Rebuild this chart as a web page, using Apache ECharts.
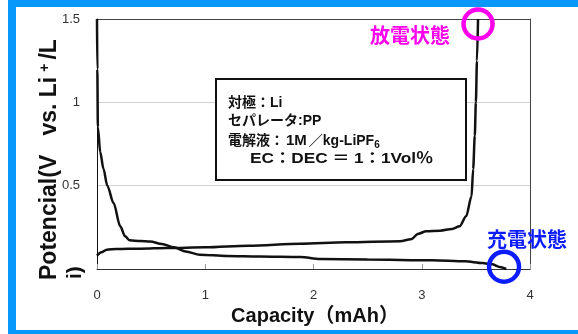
<!DOCTYPE html>
<html>
<head>
<meta charset="utf-8">
<script src="https://cdn.jsdelivr.net/npm/echarts@6/dist/echarts.min.js"></script>
<style>
  html, body { margin: 0; padding: 0; background: #ffffff; overflow: hidden; }
  #chart { width: 578px; height: 334px; }
</style>
</head>
<body>
<div id="chart"></div>
<script>
// Axis ticks
const xTicks = [0, 1, 2, 3, 4];
const yTicks = [0, 0.5, 1, 1.5];

// Discharge curve: capacity (mAh) vs potential (V)
const dischargeCap = [0, 0.003, 0.008, 0.03, 0.06, 0.095, 0.153, 0.215, 0.26, 0.3, 0.4, 0.49, 0.6, 0.71, 0.82, 0.95, 1.2, 1.5, 1.88, 2.06, 2.5, 3.1, 3.4, 3.56, 3.65, 3.72, 3.78];
const dischargeV   = [1.5, 1.2, 0.85, 0.7, 0.6, 0.5, 0.396, 0.256, 0.196, 0.172, 0.168, 0.165, 0.15, 0.13, 0.105, 0.086, 0.078, 0.075, 0.072, 0.06, 0.057, 0.052, 0.046, 0.036, 0.028, 0.012, 0.0];

// Charge curve: capacity (mAh) vs potential (V)
const chargeCap = [0, 0.04, 0.09, 0.18, 0.4, 0.65, 1.0, 1.4, 1.88, 2.3, 2.8, 2.9, 2.97, 3.04, 3.17, 3.28, 3.35, 3.41, 3.46, 3.475, 3.49, 3.5, 3.51, 3.52];
const chargeV   = [0.08, 0.1, 0.116, 0.12, 0.122, 0.126, 0.13, 0.14, 0.152, 0.16, 0.166, 0.178, 0.212, 0.226, 0.23, 0.24, 0.256, 0.316, 0.436, 0.6, 0.8, 1.0, 1.25, 1.5];

// Highlighted states (capacity, potential)
const dischargedState = [3.52, 1.47];
const chargedState = [3.76, 0.014];

// Cell conditions (rich-text markup for sub/spacing)
const cellLines = [
  '対極：Li',
  'セパレータ:PP',
  '電解液：{n|1M}／kg-LiPF{sub|6}',
  'EC：DEC{eq|＝}1：1Vol％'
];

const FONT = '"Liberation Sans", "Noto Sans CJK JP", sans-serif';
const JP = '"Noto Sans CJK JP", sans-serif';

const pairs = (xs, ys) => xs.map((x, i) => [x, ys[i]]);

const chart = echarts.init(document.getElementById('chart'), null, { renderer: 'canvas' });

chart.setOption({
  animation: false,
  backgroundColor: '#ffffff',
  grid: { left: 97, right: 48, top: 19, bottom: 65, show: false },
  xAxis: [{
    type: 'value',
    min: xTicks[0], max: xTicks[xTicks.length - 1], interval: 1,
    axisLine: { lineStyle: { color: '#333', width: 1 } },
    axisTick: { inside: true, length: 5, lineStyle: { color: '#999' } },
    axisLabel: { margin: 20, fontSize: 13, color: '#333', fontFamily: FONT },
    splitLine: { show: false }
  }, {
    type: 'value', position: 'top',
    min: xTicks[0], max: xTicks[xTicks.length - 1],
    axisLine: { show: true, onZero: false, lineStyle: { color: '#444', width: 1 } },
    axisTick: { show: false }, axisLabel: { show: false }, splitLine: { show: false }
  }],
  yAxis: [{
    type: 'value',
    min: yTicks[0], max: yTicks[yTicks.length - 1], interval: 0.5,
    axisLine: { show: true, lineStyle: { color: '#111', width: 1 } },
    axisTick: { show: false },
    axisLabel: {
      margin: 17, fontSize: 13, color: '#333', fontFamily: FONT,
      formatter: v => (v === 0 ? '' : String(v))
    },
    splitLine: { show: true, lineStyle: { color: '#cfcfcf', width: 1 } }
  }, {
    type: 'value', position: 'right',
    min: yTicks[0], max: yTicks[yTicks.length - 1],
    axisLine: { show: true, onZero: false, lineStyle: { color: '#444', width: 1 } },
    axisTick: { show: false }, axisLabel: { show: false }, splitLine: { show: false }
  }],
  series: [{
    name: 'discharge', type: 'line',
    data: pairs(dischargeCap, dischargeV),
    showSymbol: false, smooth: 0.3, smoothMonotone: 'x', clip: false,
    lineStyle: { color: '#111', width: 2.5 }
  }, {
    name: 'charge', type: 'line',
    data: pairs(chargeCap, chargeV),
    showSymbol: false, smooth: 0.3, smoothMonotone: 'x', clip: false,
    lineStyle: { color: '#111', width: 2.5 }
  }]
});

const p1 = chart.convertToPixel({ gridIndex: 0 }, dischargedState);
const p2 = chart.convertToPixel({ gridIndex: 0 }, chargedState);

const textStyle = (text, size, family, rich) => ({
  text, font: 'bold ' + size + 'px ' + family, fill: '#111', verticalAlign: 'middle', rich: rich || {}
});

chart.setOption({
  graphic: [
    // blue frame
    { type: 'rect', shape: { x: 8, y: 0, width: 8, height: 334 }, style: { fill: '#0898fb' }, silent: true },
    { type: 'rect', shape: { x: 8, y: 0, width: 570, height: 7 }, style: { fill: '#0898fb' }, silent: true },
    { type: 'rect', shape: { x: 8, y: 330, width: 570, height: 4 }, style: { fill: '#0898fb' }, silent: true },
    // axis titles
    {
      type: 'text', x: 50, y: 280, rotation: Math.PI / 2,
      style: {
        text: 'Potencial(V   vs. Li{sup|+}/L',
        font: 'bold 23px ' + FONT, fill: '#111', align: 'left', verticalAlign: 'middle',
        rich: { sup: { font: 'bold 14px ' + FONT, verticalAlign: 'top', fill: '#111', padding: [0, 4, 0, 5] } }
      }
    },
    {
      type: 'text', x: 75, y: 279, rotation: Math.PI / 2,
      style: { text: 'i)', font: 'bold 21px ' + FONT, fill: '#111', align: 'left', verticalAlign: 'middle' }
    },
    {
      type: 'text', x: 315, y: 316,
      style: { text: 'Capacity（mAh）', font: 'bold 20px ' + FONT, fill: '#111', align: 'center', verticalAlign: 'middle' }
    },
    // condition box
    {
      type: 'rect', shape: { x: 216, y: 79, width: 250, height: 101 },
      style: { fill: '#fff', stroke: '#111', lineWidth: 2 }, z: 10
    },
    { type: 'text', x: 228, y: 103, z: 11, style: textStyle(cellLines[0], 14, FONT) },
    { type: 'text', x: 228, y: 121, z: 11, style: textStyle(cellLines[1], 14, FONT) },
    {
      type: 'text', x: 228, y: 141, z: 11,
      style: textStyle(cellLines[2], 14, FONT, {
        n: { font: 'bold 15px ' + FONT, fill: '#111', padding: [0, 2, 0, 2] },
        sub: { font: 'bold 10px ' + FONT, fill: '#111', padding: [9, 0, 0, 0] }
      })
    },
    {
      type: 'text', x: 250, y: 159, z: 11, scaleX: 1.15,
      style: textStyle(cellLines[3], 15, FONT, {
        eq: { font: 'bold 15px ' + FONT, fill: '#111', padding: [0, 4, 0, 4] }
      })
    },
    // state markers
    {
      type: 'circle', shape: { cx: p1[0], cy: p1[1], r: 14.5 },
      style: { fill: 'none', stroke: '#ff00ee', lineWidth: 4.5 }, z: 12
    },
    {
      type: 'text', x: 410, y: 35, z: 12,
      style: { text: '放電状態', font: 'bold 20px ' + JP, fill: '#ff00ee', align: 'center', verticalAlign: 'middle' }
    },
    {
      type: 'circle', shape: { cx: p2[0], cy: p2[1], r: 15 },
      style: { fill: 'none', stroke: '#0b1cff', lineWidth: 4.5 }, z: 12
    },
    {
      type: 'text', x: 527, y: 239, z: 12,
      style: { text: '充電状態', font: 'bold 20px ' + JP, fill: '#0b1cff', align: 'center', verticalAlign: 'middle' }
    }
  ]
});
</script>
</body>
</html>
